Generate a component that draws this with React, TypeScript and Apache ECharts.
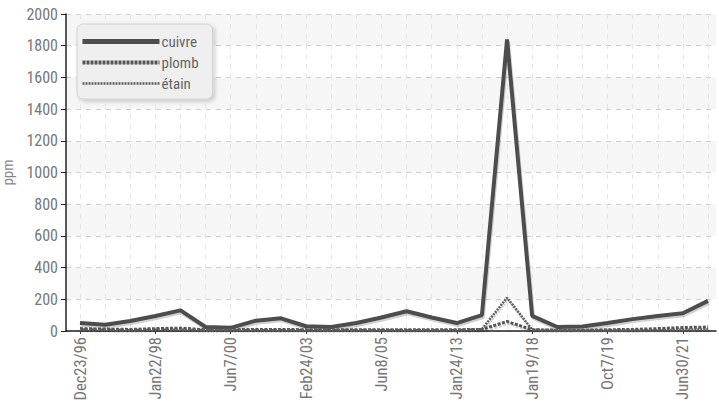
import React, { useEffect, useRef } from "react";
import * as echarts from "echarts";

const categories = [
  "Dec23/96", "Jun10/97", "Sep15/97", "Jan22/98", "Jul8/98", "Dec2/99",
  "Jun7/00", "Nov14/00", "May22/02", "Feb24/03", "Aug12/03", "Nov30/04",
  "Jun8/05", "Jun20/08", "Oct5/10", "Jan24/13", "Mar10/15", "Oct25/17",
  "Jan19/18", "Jun6/18", "Feb12/19", "Oct7/19", "May5/20", "Dec1/20",
  "Jun30/21", "Jan12/22",
];
const cuivre = [50, 40, 63, 95, 130, 25, 20, 65, 80, 30, 25, 50, 85, 125, 85, 50, 100, 1840, 95, 25, 28, 50, 75, 95, 112, 190];
const plomb = [15, 12, 10, 15, 18, 8, 8, 10, 10, 8, 8, 8, 8, 8, 8, 8, 10, 60, 8, 5, 5, 8, 10, 15, 22, 25];
const etain = [10, 8, 5, 8, 8, 5, 5, 5, 5, 5, 5, 5, 5, 5, 5, 5, 12, 210, 8, 5, 5, 5, 5, 5, 8, 10];
const seriesNames = ["cuivre", "plomb", "étain"];
const yTicks = { min: 0, max: 2000, interval: 200 };

const FONT = "'Roboto Condensed', 'Liberation Sans Narrow', Roboto, sans-serif";

export default function App() {
  const ref = useRef<HTMLDivElement>(null);
  useEffect(() => {
    const chart = echarts.init(ref.current!, null, { renderer: "svg" });
    const lineShadow = {
      shadowColor: "rgba(0,0,0,0.18)",
      shadowOffsetX: 1,
      shadowOffsetY: 2,
      shadowBlur: 1,
    };
    const styles = [
      { width: 4, color: "#4d4d4d", type: "solid" as any },
      { width: 3, color: "#555", type: [3, 1.5] },
      { width: 2.5, color: "#5e5e5e", type: [2, 1] },
    ];
    const values = [cuivre, plomb, etain];
    chart.setOption({
      animation: false,
      textStyle: { fontFamily: FONT },
      legend: {
        left: 77,
        top: 24,
        orient: "vertical",
        itemWidth: 77,
        itemHeight: 14,
        itemGap: 6,
        padding: [10, 14, 8, 3],
        backgroundColor: "#efefef",
        borderColor: "#d2d2d2",
        borderWidth: 1,
        borderRadius: 6,
        shadowBlur: 4,
        shadowColor: "rgba(0,0,0,0.2)",
        shadowOffsetX: 2,
        shadowOffsetY: 2,
        itemStyle: { opacity: 0 },
        textStyle: { fontFamily: FONT, fontSize: 15, color: "#666", padding: [0, 0, 0, -3] },
        data: seriesNames.map((n, i) => ({
          name: n,
          lineStyle: {
            width: [5, 4, 2.5][i],
            color: styles[i].color,
            type: i === 0 ? "solid" : i === 1 ? [3, 1] : [2, 1],
          },
        })),
      },
      grid: [
        { left: 66, right: 3, top: 14, height: 317, outerBoundsMode: "none", containLabel: false },
        { left: 80, right: 11, top: 14, height: 317, outerBoundsMode: "none", containLabel: false },
      ],
      xAxis: [
        {
          gridIndex: 0,
          type: "value",
          min: 0,
          max: 1,
          axisLine: { show: true, lineStyle: { color: "#222", width: 1.5 } },
          axisTick: { show: false },
          axisLabel: { show: false },
          splitLine: { show: false },
        },
        {
          gridIndex: 1,
          type: "category",
          boundaryGap: false,
          data: categories,
          axisLine: { show: false },
          axisTick: { show: true, interval: 2, length: 3, lineStyle: { color: "#444" } },
          axisLabel: {
            interval: 2,
            rotate: 90,
            margin: 6,
            fontSize: 16.5,
            color: "#777",
            fontFamily: FONT,
          },
          splitLine: { show: true, interval: 2, lineStyle: { color: "#cfcfcf", type: [5, 5] } },
        },
        {
          gridIndex: 1,
          type: "category",
          boundaryGap: false,
          data: categories,
          axisLine: { show: false },
          axisTick: { show: false },
          axisLabel: { show: false },
          splitLine: { show: true, interval: 0, lineStyle: { color: "#e6e6e6", type: [5, 5] } },
        },
      ],
      yAxis: [
        {
          gridIndex: 0,
          type: "value",
          z: -1,
          min: yTicks.min,
          max: yTicks.max,
          interval: yTicks.interval,
          name: "ppm",
          nameLocation: "middle",
          nameGap: 48,
          nameTextStyle: { fontSize: 15, color: "#888", fontFamily: FONT },
          axisLine: { show: true, lineStyle: { color: "#222", width: 1.5 } },
          axisTick: { show: true, length: 5, lineStyle: { color: "#222" } },
          axisLabel: {
            fontSize: 16,
            color: "#777",
            margin: 8,
            fontFamily: FONT,
            formatter: (v: number) => String(v),
          },
          splitLine: { show: true, lineStyle: { color: "#d0d0d0", type: [5, 5] } },
          splitArea: { show: true, areaStyle: { color: ["rgba(255,255,255,0)", "#f6f6f6"] } },
        },
        {
          gridIndex: 1,
          type: "value",
          min: yTicks.min,
          max: yTicks.max,
          show: false,
        },
      ],
      series: seriesNames.map((n, i) => ({
        name: n,
        type: "line",
        xAxisIndex: 1,
        yAxisIndex: 1,
        data: values[i],
        symbol: "none",
        color: styles[i].color,
        lineStyle: { ...styles[i], ...lineShadow },
      })),
    });
    return () => chart.dispose();
  }, []);
  return (
    <div
      ref={ref}
      style={{ position: "fixed", left: 0, top: 0, width: 719, height: 411, background: "#fff" }}
    />
  );
}
